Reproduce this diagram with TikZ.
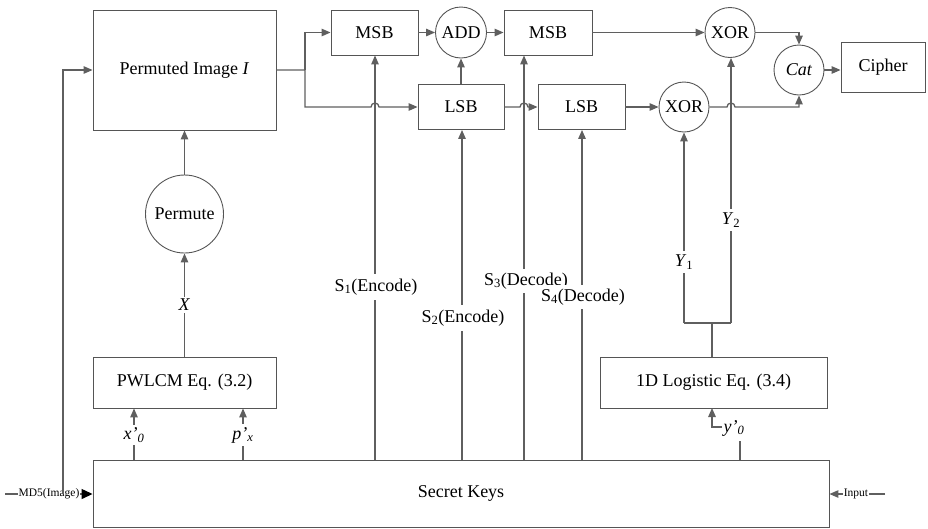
\documentclass[tikz,border=0pt]{standalone}
\usepackage{fontspec}
\setmainfont{LiberationSerif}[Extension=.ttf, UprightFont=*-Regular, ItalicFont=*-Italic, BoldFont=*-Bold, BoldItalicFont=*-BoldItalic]
\usetikzlibrary{arrows.meta}
\definecolor{lc}{RGB}{95,95,95}
\definecolor{bc}{RGB}{85,85,85}
\begin{document}
\begin{tikzpicture}[x=1pt,y=-1pt,
  ln/.style={draw=lc, line width=1.3pt},
  arr/.style={ln, -{Triangle[length=9pt,width=7.5pt]}},
  box/.style={draw=bc, line width=0.9pt, rectangle, inner sep=0pt, font=\fontsize{18}{20}\selectfont},
  circ/.style={draw=bc, line width=0.9pt, circle, inner sep=0pt, font=\fontsize{18}{20}\selectfont},
  lab/.style={fill=white, inner sep=2pt, font=\fontsize{18}{20}\selectfont},
  sm/.style={fill=white, inner sep=1pt, font=\fontsize{11.5}{13}\selectfont}]
\useasboundingbox (0,0) rectangle (928,528);

% nodes
\node[box, minimum width=183pt, minimum height=120pt] (perm) at (184.5,70) {Permuted Image \textit{I}};
\node[circ, minimum size=78pt] (permute) at (184.5,214) {Permute};
\node[box, minimum width=183pt, minimum height=51pt] (pwlcm) at (184.5,382.5) {PWLCM Eq. (3.2)};
\node[box, minimum width=736pt, minimum height=67pt] (keys) at (461,493.5) {Secret Keys};
\node[box, minimum width=87pt, minimum height=45pt] (msb1) at (374.5,32.5) {MSB};
\node[circ, minimum size=51pt] (add) at (461,32.5) {ADD};
\node[box, minimum width=88pt, minimum height=45pt] (msb2) at (548,32.5) {MSB};
\node[box, minimum width=86pt, minimum height=45pt] (lsb1) at (461,107) {LSB};
\node[box, minimum width=87pt, minimum height=45pt] (lsb2) at (581.5,107) {LSB};
\node[circ, minimum size=50pt] (xor1) at (730,32.5) {XOR};
\node[circ, minimum size=50pt] (xor2) at (684,107) {XOR};
\node[circ, minimum size=50pt] (cat) at (799,70) {\textit{Cat}};
\node[box, minimum width=84pt, minimum height=50pt] (cipher) at (883,67) {Cipher};
\node[box, minimum width=227pt, minimum height=51pt] (logi) at (713.5,382.5) {1D Logistic Eq. (3.4)};

% coordinates
\coordinate (split) at (305,70);
\coordinate (md5a) at (5,494);
\coordinate (md5up) at (63,494);
\coordinate (inpa) at (885,494);
\coordinate (s1) at (375,460);
\coordinate (s2) at (462,460);
\coordinate (s3) at (524,460);
\coordinate (s4) at (582,460);
\coordinate (yj) at (712,323);
\coordinate (y1b) at (684,323);
\coordinate (y2b) at (731,323);
\coordinate (xk) at (134,460);
\coordinate (pk) at (243,460);

% main flow
\draw[arr] (split) -- (305,32.5) -- (msb1.west);
\draw[arr] (perm.east) -- (split) -- (305,107) -- (371,107) arc[start angle=180,end angle=0,radius=4pt] -- (lsb1.west);
\draw[arr] (msb1.east) -- (add.west);
\draw[arr] (lsb1.north) -- (add.south);
\draw[arr] (add.east) -- (msb2.west);
\draw[arr] (lsb1.east) -- (520,107) arc[start angle=180,end angle=0,radius=4pt] -- (lsb2.west);
\draw[arr] (msb2.east) -- (xor1.west);
\draw[arr] (lsb2.east) -- (xor2.west);
\draw[arr] (xor1.east) -- (799,32.5) -- (cat.north);
\draw[arr] (xor2.east) -- (727,107) arc[start angle=180,end angle=0,radius=4pt] -- (799,107) -- (cat.south);
\draw[arr] (cat.east) -- (cat.east -| cipher.west);

% permutation part
\draw[arr] (permute.north) -- (perm.south);
\draw[arr] (pwlcm.north) -- (permute.south);
\node[lab] at (184.5,305) {\textit{X}};
\draw[arr] (xk) -- (xk |- pwlcm.south);
\draw[arr] (pk) -- (pk |- pwlcm.south);
\node[lab, inner sep=3pt] at (134,435) {\textit{x’\textsubscript{0}}};
\node[lab, inner sep=3pt] at (243,435) {\textit{p’\textsubscript{x}}};

% key lines
\draw[arr] (s1) -- (s1 |- msb1.south);
\draw[arr] (s2) -- (s2 |- lsb1.south);
\draw[arr] (s3) -- (s3 |- msb2.south);
\draw[arr] (s4) -- (s4 |- lsb2.south);
\node[lab, inner sep=5pt] at (376,287) {S\textsubscript{1}(Encode)};
\node[lab, inner sep=5pt] at (463,318) {S\textsubscript{2}(Encode)};
\node[lab, inner sep=4pt] at (526,281) {S\textsubscript{3}(Decode)};
\node[lab, inner sep=4pt] at (583,297) {S\textsubscript{4}(Decode)};

% logistic outputs
\draw[ln] (logi.north -| yj) -- (yj);
\draw[ln] (y1b) -- (y2b);
\draw[arr] (y1b) -- (y1b |- xor2.south);
\draw[arr] (y2b) -- (y2b |- xor1.south);
\node[lab, inner sep=4pt] at (684,262) {\textit{Y}\textsubscript{1}};
\node[lab, inner sep=4pt] at (731,220) {\textit{Y}\textsubscript{2}};

% y'0
\draw[arr] (722,427) -- (712,427) -- (712,408);
\node[font=\fontsize{18}{20}\selectfont, inner sep=0pt] at (734,428) {\textit{y’\textsubscript{0}}};
\draw[ln] (740,441) -- (740,460);

% MD5 and Input
\draw[ln, -{Triangle[length=11pt,width=10pt,fill=black,color=black]}] (md5a) -- (keys.west |- md5a);
\node[sm, fill=white] at (49,494) {MD5(Image)};
\draw[arr] (md5up) -- (63,70) -- (perm.west);
\draw[arr] (inpa) -- (keys.east |- inpa);
\node[sm, fill=white] at (856,494) {Input};
\end{tikzpicture}
\end{document}
